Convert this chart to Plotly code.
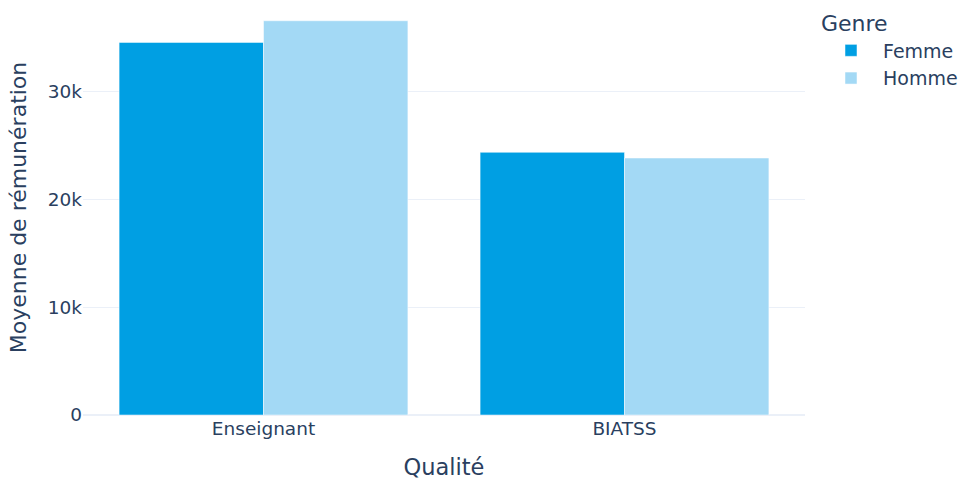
import plotly.graph_objects as go

categories = ["Enseignant", "BIATSS"]
femme_values = [34580, 24380]
homme_values = [36590, 23850]
series_names = ["Femme", "Homme"]
series_colors = ["#009FE3", "#A3D9F5"]
y_ticks = [0, 10000, 20000, 30000]
y_tick_labels = ["0", "10k", "20k", "30k"]

fig = go.Figure()
for name, vals, col in zip(series_names, [femme_values, homme_values], series_colors):
    fig.add_trace(go.Bar(x=categories, y=vals, name=name, marker_color=col))

FONT = "DejaVu Sans, Verdana, sans-serif"
fig.update_layout(
    template="plotly_white",
    width=963,
    height=480,
    barmode="group",
    font=dict(family=FONT, size=18.5, color="#2a3f5f"),
    margin=dict(l=83, r=158, t=0, b=65),
    legend=dict(title=dict(text="Genre", font=dict(size=22)), font=dict(size=19),
                itemwidth=54, x=1.02, y=0.993, xanchor="left", yanchor="top"),
    xaxis=dict(title=dict(text="Qualité", font=dict(size=22.5), standoff=24), automargin=False),
    yaxis=dict(title=dict(text="Moyenne de rémunération", font=dict(size=22)),
               automargin=False, tickvals=y_ticks, ticktext=y_tick_labels),
)

fig.write_html("out.html", config={"displayModeBar": False},
               post_script="document.body.style.margin='0';document.body.style.overflow='hidden';")
